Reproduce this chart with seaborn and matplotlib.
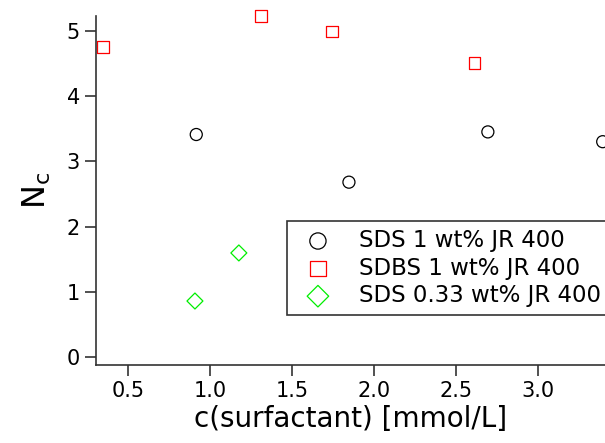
import matplotlib
matplotlib.use("Agg")
import matplotlib.pyplot as plt
import seaborn as sns
import pandas as pd

sns.set_style("ticks")
plt.rcParams['font.family'] = ['DejaVu Sans']
plt.rcParams['text.color'] = 'black'
plt.rcParams['axes.labelcolor'] = 'black'

series_names = ["SDS 1 wt% JR 400", "SDBS 1 wt% JR 400", "SDS 0.33 wt% JR 400"]
sds_x = [0.915, 1.847, 2.695, 3.396]
sds_y = [3.41, 2.68, 3.45, 3.30]
sdbs_x = [0.346, 1.31, 1.743, 2.615]
sdbs_y = [4.75, 5.225, 4.99, 4.505]
sds033_x = [0.907, 1.175]
sds033_y = [0.86, 1.596]
x_ticks = [0.5, 1.0, 1.5, 2.0, 2.5, 3.0]
y_ticks = [0, 1, 2, 3, 4, 5]

df = pd.concat([
    pd.DataFrame({"x": sds_x, "y": sds_y, "series": series_names[0]}),
    pd.DataFrame({"x": sdbs_x, "y": sdbs_y, "series": series_names[1]}),
    pd.DataFrame({"x": sds033_x, "y": sds033_y, "series": series_names[2]}),
])

fig = plt.figure(figsize=(6.05, 4.43), dpi=100)
ax = fig.add_axes([96/605, 1-365/443, 1-96/605, (365-16)/443])

styles = [
    dict(marker="o", edgecolor="black", s=75),
    dict(marker="s", edgecolor="#ff0000", s=66),
    dict(marker="D", edgecolor="#00ee00", s=66),
]
for name, st in zip(series_names, styles):
    sub = df[df["series"] == name]
    sns.scatterplot(data=sub, x="x", y="y", ax=ax, marker=st["marker"],
                    facecolor="none", edgecolor=st["edgecolor"], s=st["s"],
                    linewidth=0.9, label=name, clip_on=False)

ax.set_xlim(0.303, 3.41)
ax.set_ylim(-0.12, 5.225)
ax.set_xticks(x_ticks)
ax.set_xticklabels([f"{v:.1f}" for v in x_ticks])
ax.set_yticks(y_ticks)
ax.tick_params(axis="both", direction="out", length=8, width=1.2, labelsize=15,
               colors="#333333", labelcolor="black")
ax.spines["top"].set_visible(False)
ax.spines["right"].set_visible(False)
for sp in ["left", "bottom"]:
    ax.spines[sp].set_color("#333333")
    ax.spines[sp].set_linewidth(1.2)

ax.set_xlabel("c(surfactant) [mmol/L]", fontsize=20, labelpad=3)
ax.set_ylabel(r"N$_\mathregular{c}$", fontsize=23, labelpad=10)

leg = ax.legend(loc="upper left", bbox_to_anchor=(287/605, 1-221/443),
                bbox_transform=fig.transFigure, fontsize=16.5, frameon=True,
                fancybox=False, edgecolor="#333333", framealpha=1,
                borderpad=0.35, borderaxespad=0, labelspacing=0.2,
                handletextpad=0.8, markerscale=1.35)
leg.get_frame().set_linewidth(1.2)

fig.savefig("out.png", dpi=100)
